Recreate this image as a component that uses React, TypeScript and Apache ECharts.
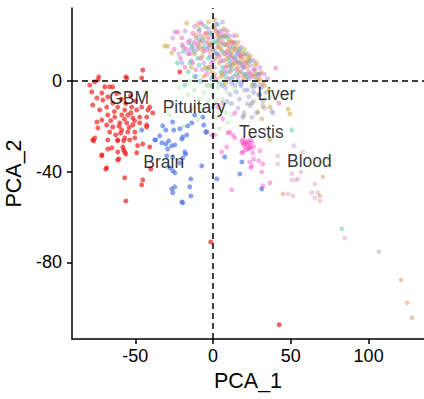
import React, { useEffect, useRef } from "react";
import * as echarts from "echarts";

const xTicks = [-50, 0, 50, 100];
const yTicks = [-80, -40, 0];

const gbm: number[][] = [
  [-73.5, 1.8], [-76.1, -0.4], [-79.3, -1.8], [-78.0, -4.8], [-56.1, 1.8], [-45.2, 4.8], [-45.9, 1.3],
  [-64.5, -2.6], [-69.6, -2.6], [-71.5, -5.3], [-74.7, -7.5], [-70.9, -8.4], [-67.7, -7.0], [-77.4, -10.6],
  [-72.9, -12.8], [-68.4, -11.5], [-64.5, -9.7], [-61.3, -11.5], [-56.8, -12.8], [-52.3, -11.5], [-49.1, -12.8],
  [-45.9, -11.5], [-40.7, -11.5], [-38.8, -14.1], [-42.7, -15.9], [-47.2, -15.9], [-51.6, -16.3], [-54.8, -15.0],
  [-58.7, -15.0], [-63.2, -15.9], [-67.7, -15.0], [-71.5, -17.2], [-74.7, -18.1], [-68.4, -19.4], [-64.5, -20.3],
  [-60.0, -18.5], [-55.5, -18.5], [-51.6, -19.4], [-47.2, -18.5], [-42.7, -19.4], [-58.7, -21.6], [-54.8, -22.5],
  [-50.3, -22.5], [-62.6, -23.8], [-66.5, -22.5], [-74.1, -20.7], [-56.8, -25.1], [-61.3, -26.0], [-53.6, -26.0],
  [-76.1, -25.1], [-67.7, -26.0], [-65.1, -29.5], [-58.0, -29.1], [-50.3, -25.1], [-71.5, -32.6], [-77.4, -26.0],
  [-68.4, -38.3], [-56.8, -31.3], [-49.1, -31.7], [-45.2, -27.8], [-42.7, -20.3], [-41.9, -12.8], [-74.1, 0.4],
  [-66.5, -2.6], [-55.5, 1.3], [-45.9, -45.8], [-61.3, -34.8], [-56.8, -42.7], [-76.7, -26.4], [-67.7, -30.0],
  [-71.5, -33.0], [-61.3, -31.3], [-57.5, -30.4], [-56.1, -32.2], [-60.6, -34.4], [-40.7, -29.1], [-40.1, -38.8],
  [-69.0, -38.8], [-45.2, -43.6], [-56.1, -52.9], [-57.5, -26.4], [-61.3, -26.4], [-59.0, -8.0], [-53.0, -6.5],
  [-62.0, -5.5], [-50.0, -8.8], [-63.5, -13.5], [-54.0, -20.5], [-59.5, -23.0], [-48.5, -28.5], [-21.4, 4.0],
  [-57.0, -16.8], [-60.5, -20.0], [-52.8, -14.0], [-65.8, -17.5], [-50.5, -17.5], [-56.0, -10.0],
  [-1.5, -71.0], [42.5, -107.5]
];

const brain: number[][] = [
  [-32.4, -19.8], [-26.0, -18.1], [-30.4, -21.6], [-34.3, -24.2], [-36.9, -26.0], [-33.0, -27.3], [-30.4, -27.8],
  [-28.5, -26.4], [-25.3, -21.6], [-21.4, -21.1], [-16.3, -19.8], [-13.7, -18.5], [-16.9, -23.8], [-19.5, -24.7],
  [-20.1, -25.6], [-24.6, -28.2], [-26.6, -28.6], [-29.2, -30.0], [-29.8, -33.0], [-25.9, -33.5], [-18.2, -31.3],
  [-17.6, -32.2], [-19.5, -33.9], [-21.4, -36.1], [-27.9, -38.3], [-25.9, -39.6], [-24.6, -40.5], [-14.3, -43.2],
  [-15.0, -46.7], [-14.3, -50.7], [-24.6, -46.7], [-26.6, -47.6], [-25.9, -49.3], [-20.1, -53.3], [-11.8, -15.0],
  [-6.0, -19.4], [-4.7, -22.5], [-7.3, -37.4], [2.4, -43.2], [-45.9, -21.6], [18.5, -35.7], [17.2, -41.0],
  [31.3, -47.6], [-6.6, -15.9], [-4.1, -22.5], [7.5, -33.5], [-19.5, -53.7], [-37.5, -26.0]
];

const pituitary: number[][] = [
  [-12, -4], [-9, -8], [-6, -5], [-3, -9], [0, -6], [3, -3], [6, -8], [9, -5], [-14, -12], [-7, -13], [-1, -12],
  [5, -12], [-16, -6], [2, -16], [-10, -17], [8, -14], [11, -10], [-4, -2], [-19, -20], [-15, 0], [4, -21],
  [14, -4], [12, -15], [-22, -3], [7, 0], [-3.4, -1.8], [2.4, -8.4], [9.5, -18.5], [-27.9, -15.0]
];

const cloudPurple: number[][] = [
  [-24.6, 21.6], [-25.9, 18.9], [-18, 22], [-12, 24], [-8, 26], [-3, 23], [2, 25], [6, 22], [10, 20], [14, 17],
  [18, 15], [22, 12], [26, 9], [30, 6], [33, 3], [-20, 16], [-15, 18], [-10, 14], [-5, 17], [0, 19], [4, 15],
  [8, 12], [12, 10], [16, 8], [20, 6], [24, 3], [28, 1], [-14, 9], [-6, 8], [1, 6], [7, 4], [13, 2], [19, 0],
  [-22, 12], [-2, 11], [15, 13], [24, 7], [35, 1], [-8, 20], [5, 9], [-16, 12], [-4, 14], [9, 16], [17, 11],
  [21, 3], [3, 18], [-11, 19], [11, 6], [26, 5], [-1, 21], [6, 26], [13, 20], [-7, 5], [0, 9], [10, 11],
  [18, 4], [23, 9], [-13, 15], [4, 22], [29, 3]
];

const cloudPink: number[][] = [
  [-22.7, 21.6], [-20, 19], [-17, 14], [-21, 10], [-15, 12], [-12, 17], [-9, 22], [-6, 13], [-3, 19], [0, 14],
  [3, 21], [6, 17], [9, 13], [12, 8], [15, 5], [18, 11], [21, 8], [-18, 6], [-11, 5], [-4, 3], [2, 1], [8, 6],
  [11, 15], [-13, 21], [-7, 25], [1, 23], [4, 11], [23, 4], [27, 5], [-25, 14], [16, 2], [-1, 8], [10, 1],
  [30, 3], [40.3, 5.7], [42.3, -9.7], [-19, 15], [-16, 17], [-8, 10], [-2, 16], [5, 20], [14, 10], [19, 7],
  [7, 9], [-13, 8], [25, 2], [-5, 21], [-10, 16], [2, 12], [12, 17], [17, 13], [-3, 6], [9, 22]
];

const cloudTeal: number[][] = [
  [-18.2, -1.8], [-16, 4], [-12, 2], [-8, 0], [-4, 5], [0, 2], [4, -1], [8, 2], [12, 5], [16, 0], [20, 3],
  [-10, 10], [-6, 15], [-2, 21], [2, 17], [6, 13], [10, 9], [14, 11], [18, 8], [22, 2], [26, -1], [-14, 16],
  [-19, 13], [-23, 8], [3, 25], [-5, 24], [9, 19], [13, 15], [24, 9], [28, 3], [-1, -2], [6, 6], [-9, 7],
  [17, 14], [50.6, -21.6], [82.8, -65.2], [-12, 13], [-3, 10], [1, 13], [5, 4], [11, 7], [15, 3], [-7, 18],
  [20, 12], [-15, 8], [7, 16], [-9, 23], [0, 17], [4, 19], [12, 1]
];

const cloudGold: number[][] = [
  [-31.1, 15.4], [-29.1, 15.4], [-26.6, 12.3], [-16.9, 25.6], [-3, 26], [0, 24], [3, 20], [7, 23], [11, 18],
  [15, 15], [19, 12], [23, 10], [27, 7], [31, 4], [-1, 16], [5, 14], [9, 10], [13, 7], [17, 4], [21, 1],
  [25, -2], [-7, 11], [-11, 20], [-5, 6], [1, 3], [29, 0], [33, -2], [-14, 6], [8, -1], [12, 13], [36, -4],
  [48.1, -12.3], [49.4, -14.5], [32, -11], [28.8, -13.7], [19.8, -15.4], [36.5, -11.5], [36.5, -26.0],
  [24.9, -9.7], [2, 10], [-9, 15], [16, 17], [22, 8], [6, 3], [10, 14], [-2, 6], [27, 2], [-6, 19],
  [4, 17], [14, 8], [20, 14], [8, 20]
];

const cloudOrange: number[][] = [
  [-10, 25], [-4, 21], [2, 22], [6, 19], [10, 17], [14, 14], [18, 10], [22, 6], [26, 3], [30, 1], [-8, 17],
  [-2, 13], [4, 8], [8, 16], [12, 11], [16, 6], [20, 9], [24, 11], [-12, 12], [-1, 4], [5, 2], [28, 8], [1, 27],
  [-6, 2], [11, 4], [19, 2], [32, -1], [15, 20], [31.3, -16.7], [-3, 17], [3, 15], [9, 7], [13, 17], [17, 8],
  [-7, 14], [7, 12], [21, 11]
];

const cloudBlue: number[][] = [
  [-20, 8], [-14, 14], [-9, 18], [-3, 15], [3, 12], [7, 20], [11, 12], [15, 9], [19, 6], [23, 1], [27, -2],
  [31, -3], [-11, 2], [-1, 1], [6, -2], [12, -1], [18, -2], [22, -4], [26, -5], [30, -6], [9, 4], [16, 12]
];

const liver: number[][] = [
  [8, -3], [11, -6], [14, -2], [17, -8], [20, -4], [23, -7], [26, -3], [29, -6], [32, -9], [12, -10], [16, -12],
  [20, -14], [24, -11], [28, -14], [18, -1], [22, -10], [30, -2], [34, -5], [15, -5], [26, -9], [19, -16],
  [9, -9], [25, -16], [33, -12], [37.8, -13.2], [38.4, -14.1]
];

const testis: number[][] = [
  [19, -26], [20, -27.5], [21, -26.5], [22, -28], [23, -27], [24, -28.5], [20.5, -29], [22.5, -30], [25, -27],
  [21, -30.5], [23.5, -29.5], [19.5, -28], [24, -26], [26, -29], [6.2, -16.7], [1.1, -23.8], [10.7, -22.5],
  [12.7, -23.8], [14.0, -25.1], [18.5, -26.9], [21.7, -27.3], [23.6, -29.5], [19.1, -31.3], [5.6, -31.3],
  [8.8, -29.1], [14.0, -14.1], [3.0, -11.5], [6.2, -9.7], [18.5, -31.7], [25.5, -31.7], [30.1, -30.8],
  [23.6, -35.7], [26.2, -34.4], [29.4, -35.2], [32.0, -36.6], [24.3, -38.3], [31.3, -40.1], [36.5, -44.9],
  [32.0, -46.3], [9.5, -22.9], [-0.8, -23.8], [24.9, -37.4], [12, -48]
];

const blood: number[][] = [
  [52.0, -28.6], [57.8, -31.3], [41.6, -33.0], [41.6, -36.6], [56.4, -40.1], [50.6, -41.0], [50.6, -43.6],
  [53.2, -43.6], [54.5, -43.2], [65.4, -45.4], [63.5, -49.3], [67.4, -49.3], [65.4, -51.5], [68.7, -52.9],
  [48.1, -49.8], [51.3, -50.7], [84.7, -69.2]
];

const bloodOrange: number[][] = [
  [70.6, -42.3], [44.9, -49.8], [68.7, -50.7], [120.8, -87.7], [124.7, -97.8], [127.9, -104.4]
];

const grayPts: number[][] = [[106.6, -75.3]];

const labelNames = ["GBM", "Pituitary", "Liver", "Testis", "Blood", "Brain"];
const labelX = [-54.0, -12.1, 40.7, 31.0, 61.9, -31.7];
const labelY = [-7.5, -11.5, -5.7, -22.4, -35.2, -35.7];

const FONT = "'Liberation Sans', Arial, Helvetica, sans-serif";

function sc(name: string, data: number[][], color: string, size = 5) {
  return {
    type: "scatter",
    name,
    data,
    symbolSize: size,
    itemStyle: { color },
    silent: true,
  };
}

export default function App() {
  const ref = useRef<HTMLDivElement>(null);
  useEffect(() => {
    if (!ref.current) return;
    const chart = echarts.init(ref.current, null, { renderer: "svg" });
    const labelData = labelNames.map((n, i) => ({ name: n, value: [labelX[i], labelY[i]] }));
    chart.setOption({
      animation: false,
      backgroundColor: "#fff",
      grid: { left: 72, right: 0, top: 8, bottom: 60, outerBoundsMode: "none" },
      xAxis: {
        type: "value",
        min: -90.7,
        max: 135.6,
        name: "PCA_1",
        nameLocation: "middle",
        nameGap: 31,
        nameTextStyle: { fontSize: 21.5, color: "#000", fontFamily: FONT },
        axisLine: { show: true, onZero: false, lineStyle: { color: "#000", width: 1.5 } },
        axisTick: { show: true, length: 5, customValues: xTicks, lineStyle: { color: "#000", width: 1.5 } },
        axisLabel: { customValues: xTicks, fontSize: 18, color: "#000", margin: 8, fontFamily: FONT },
        splitLine: { show: false },
      },
      yAxis: {
        type: "value",
        min: -113.8,
        max: 32.2,
        name: "PCA_2",
        nameLocation: "middle",
        nameGap: 46,
        nameTextStyle: { fontSize: 21.5, color: "#000", fontFamily: FONT },
        axisLine: { show: true, onZero: false, lineStyle: { color: "#000", width: 1.5 } },
        axisTick: { show: true, length: 5, customValues: yTicks, lineStyle: { color: "#000", width: 1.5 } },
        axisLabel: { customValues: yTicks, fontSize: 18, color: "#000", margin: 10, fontFamily: FONT },
        splitLine: { show: false },
      },
      series: [
        sc("Purple", cloudPurple, "rgba(180,115,220,0.55)"),
        sc("Pink", cloudPink, "rgba(230,75,170,0.55)"),
        sc("Teal", cloudTeal, "rgba(60,190,160,0.55)"),
        sc("Gold", cloudGold, "rgba(195,160,50,0.6)"),
        sc("Orange", cloudOrange, "rgba(220,130,65,0.55)"),
        sc("Blue", cloudBlue, "rgba(115,135,215,0.55)"),
        sc("Liver", liver, "rgba(150,150,215,0.55)"),
        sc("Pituitary", pituitary, "rgba(150,225,150,0.45)"),
        sc("Testis", testis, "rgba(250,70,200,0.55)"),
        sc("Blood", blood, "rgba(215,160,200,0.6)"),
        sc("BloodOrange", bloodOrange, "rgba(220,150,90,0.65)", 4.5),
        sc("Other", grayPts, "rgba(160,160,160,0.6)", 4.5),
        sc("Brain", brain, "rgba(70,110,225,0.8)"),
        sc("GBM", gbm, "rgba(240,25,25,0.85)"),
        {
          type: "scatter",
          name: "labels",
          data: labelData,
          symbolSize: 0,
          silent: true,
          z: 5,
          label: {
            show: true,
            position: "inside",
            formatter: (p: any) => p.name,
            fontSize: 17.5,
            color: "#000",
            fontFamily: FONT,
          },
          markLine: {
            silent: true,
            symbol: ["none", "none"],
            label: { show: false },
            lineStyle: { color: "#000", type: [6, 4], width: 1.5 },
            data: [{ xAxis: 0 }, { yAxis: 0 }],
          },
        },
      ],
    });
    return () => chart.dispose();
  }, []);
  return (
    <div
      ref={ref}
      style={{ position: "fixed", left: 0, top: 0, width: 424, height: 399 }}
    />
  );
}
